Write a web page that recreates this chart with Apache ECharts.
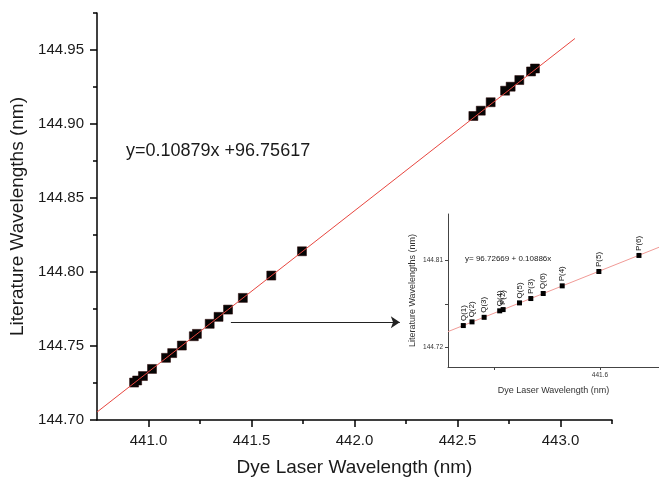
<!DOCTYPE html>
<html>
<head>
<meta charset="utf-8">
<script src="https://cdn.jsdelivr.net/npm/echarts@6/dist/echarts.min.js"></script>
<style>
  html, body { margin: 0; padding: 0; background: #fff; }
  #chart { width: 659px; height: 485px; }
</style>
</head>
<body>
<div id="chart"></div>
<script>
// Main plot: dye laser wavelength vs literature wavelength (nm)
const mainX = [440.930, 440.945, 440.973, 441.017, 441.085, 441.115, 441.162, 441.220, 441.235,
               441.297, 441.340, 441.386, 441.458, 441.596, 441.745,
               442.577, 442.613, 442.661, 442.731, 442.758, 442.800, 442.857, 442.876];
const mainY = [144.7253, 144.7267, 144.7297, 144.7345, 144.7420, 144.7452, 144.7503, 144.7566, 144.7582,
               144.7650, 144.7697, 144.7746, 144.7825, 144.7976, 144.8140,
               144.9054, 144.9090, 144.9147, 144.9225, 144.9252, 144.9297, 144.9355, 144.9375];
const mainSlope = 0.10879;
const mainIntercept = 96.75617;
const mainFitRange = [440.75, 443.07];

const mainXMajorTicks = [441.0, 441.5, 442.0, 442.5, 443.0];
const mainXMinorTicks = [441.25, 441.75, 442.25, 442.75, 443.25];
const mainYMajorTicks = [144.70, 144.75, 144.80, 144.85, 144.90, 144.95];
const mainYMinorTicks = [144.725, 144.775, 144.825, 144.875, 144.925, 144.975];

// Inset: zoom on the low-wavelength lines
const insetNames = ['Q(1)', 'Q(2)', 'Q(3)', 'Q(4)', 'P(2)', 'Q(5)', 'P(3)', 'Q(6)', 'P(4)', 'P(5)', 'P(6)'];
const insetX = [441.082, 441.115, 441.161, 441.220, 441.233, 441.295, 441.338, 441.385, 441.457, 441.596, 441.748];
const insetY = [144.7428, 144.7466, 144.7513, 144.7580, 144.7593, 144.7662, 144.7707, 144.7759, 144.7838, 144.7986, 144.8152];
const insetSlope = 0.10886;
const insetIntercept = 96.72669;
const insetXRange = [441.024, 441.824];
const insetYRange = [144.70, 144.858];
const insetXTicks = [441.2, 441.6];
const insetXLabels = [441.6];
const insetYTicks = [144.72, 144.765, 144.81];
const insetYLabels = [144.72, 144.81];

// Arrow pointing from the low cluster to the inset (main-axis coordinates)
const arrowFrom = [441.40, 144.766];
const arrowTo = [442.22, 144.766];

const FONT = '"Liberation Sans", Arial, sans-serif';

const fitLine = (slope, intercept, range) =>
  range.map(x => [x, slope * x + intercept]);

const chart = echarts.init(document.getElementById('chart'), null, { renderer: 'canvas' });

const axisBase = (color, width) => ({
  axisLine: { show: true, onZero: false, lineStyle: { color: color, width: width } },
  splitLine: { show: false }
});

const option = {
  backgroundColor: '#fff',
  animation: false,
  grid: [
    { left: 97, top: 13, width: 515, height: 407, outerBoundsMode: 'none', containLabel: false },
    { left: 448, top: 214, width: 211, height: 153, outerBoundsMode: 'none', containLabel: false }
  ],
  xAxis: [
    Object.assign(axisBase('#000', 1.5), {
      type: 'value', gridIndex: 0, position: 'bottom', min: 440.75, max: 443.25,
      name: 'Dye Laser Wavelength (nm)', nameLocation: 'middle', nameGap: 38,
      nameTextStyle: { fontFamily: FONT, fontSize: 19, color: '#1a1a1a' },
      axisTick: { show: true, inside: false, length: 7, customValues: mainXMajorTicks,
                  lineStyle: { color: '#000', width: 1.5 } },
      axisLabel: { show: true, margin: 13, customValues: mainXMajorTicks,
                   formatter: v => v.toFixed(1),
                   fontFamily: FONT, fontSize: 15, color: '#1a1a1a' }
    }),
    Object.assign(axisBase('#000', 1.5), {
      type: 'value', gridIndex: 0, position: 'bottom', offset: 0, min: 440.75, max: 443.25,
      axisLine: { show: false, onZero: false },
      axisTick: { show: true, inside: false, length: 4, customValues: mainXMinorTicks,
                  lineStyle: { color: '#000', width: 1.5 } },
      axisLabel: { show: false }
    }),
    Object.assign(axisBase('#444', 1), {
      type: 'value', gridIndex: 1, position: 'bottom', min: insetXRange[0], max: insetXRange[1],
      name: 'Dye Laser Wavelength (nm)', nameLocation: 'middle', nameGap: 19,
      nameTextStyle: { fontFamily: FONT, fontSize: 9, color: '#333' },
      axisTick: { show: true, inside: false, length: 3, customValues: insetXTicks,
                  lineStyle: { color: '#444', width: 1 } },
      axisLabel: { show: true, margin: 5, customValues: insetXLabels,
                   formatter: v => v.toFixed(1),
                   fontFamily: FONT, fontSize: 6.5, color: '#333' }
    })
  ],
  yAxis: [
    Object.assign(axisBase('#000', 1.5), {
      type: 'value', gridIndex: 0, position: 'left', min: 144.70, max: 144.975,
      name: 'Literature Wavelengths (nm)', nameLocation: 'middle', nameGap: 70,
      nameTextStyle: { fontFamily: FONT, fontSize: 19, color: '#1a1a1a' },
      axisTick: { show: true, inside: false, length: 7, customValues: mainYMajorTicks,
                  lineStyle: { color: '#000', width: 1.5 } },
      axisLabel: { show: true, margin: 13, customValues: mainYMajorTicks,
                   formatter: v => v.toFixed(2),
                   fontFamily: FONT, fontSize: 15, color: '#1a1a1a' }
    }),
    Object.assign(axisBase('#000', 1.5), {
      type: 'value', gridIndex: 0, position: 'left', offset: 0, min: 144.70, max: 144.975,
      axisLine: { show: false, onZero: false },
      axisTick: { show: true, inside: false, length: 4, customValues: mainYMinorTicks,
                  lineStyle: { color: '#000', width: 1.5 } },
      axisLabel: { show: false }
    }),
    Object.assign(axisBase('#444', 1), {
      type: 'value', gridIndex: 1, position: 'left', min: insetYRange[0], max: insetYRange[1],
      name: 'Literature Wavelengths (nm)', nameLocation: 'middle', nameGap: 31,
      nameTextStyle: { fontFamily: FONT, fontSize: 9, color: '#333' },
      axisTick: { show: true, inside: false, length: 3, customValues: insetYTicks,
                  lineStyle: { color: '#444', width: 1 } },
      axisLabel: { show: true, margin: 5, customValues: insetYLabels,
                   formatter: v => v.toFixed(2),
                   fontFamily: FONT, fontSize: 6.5, color: '#333' }
    })
  ],
  series: [
    {
      type: 'scatter', xAxisIndex: 0, yAxisIndex: 0, z: 2,
      symbol: 'rect', symbolSize: 9,
      itemStyle: { color: '#050505', opacity: 1, borderColor: '#2a0000', borderWidth: 0.5 },
      data: mainX.map((x, i) => [x, mainY[i]])
    },
    {
      type: 'line', xAxisIndex: 0, yAxisIndex: 0, z: 3,
      showSymbol: false, symbol: 'none',
      lineStyle: { color: '#e8463f', width: 1 },
      data: fitLine(mainSlope, mainIntercept, mainFitRange),
      markLine: {
        silent: true, symbol: ['none', 'arrow'], symbolSize: 9,
        label: { show: false },
        lineStyle: { color: '#222', width: 1, type: 'solid' },
        data: [[{ coord: arrowFrom }, { coord: arrowTo }]]
      }
    },
    {
      type: 'line', xAxisIndex: 2, yAxisIndex: 2, z: 2,
      showSymbol: false, symbol: 'none',
      lineStyle: { color: '#f09a96', width: 1 },
      data: fitLine(insetSlope, insetIntercept, insetXRange)
    },
    {
      type: 'scatter', xAxisIndex: 2, yAxisIndex: 2, z: 3,
      symbol: 'rect', symbolSize: 5,
      itemStyle: { color: '#000', opacity: 1 },
      label: {
        show: true, position: 'top', distance: 2, rotate: 90,
        align: 'left', verticalAlign: 'middle',
        formatter: p => insetNames[p.dataIndex],
        fontFamily: FONT, fontSize: 8, color: '#111'
      },
      data: insetX.map((x, i) => [x, insetY[i]])
    }
  ],
  graphic: [
    {
      type: 'text', left: 126, top: 142,
      style: { text: 'y=0.10879x +96.75617', fontFamily: FONT, fontSize: 18, fill: '#1a1a1a' }
    },
    {
      type: 'text', left: 465, top: 255,
      style: { text: 'y= 96.72669 + 0.10886x', fontFamily: FONT, fontSize: 8, fill: '#1a1a1a' }
    }
  ]
};

chart.setOption(option);
</script>
</body>
</html>
